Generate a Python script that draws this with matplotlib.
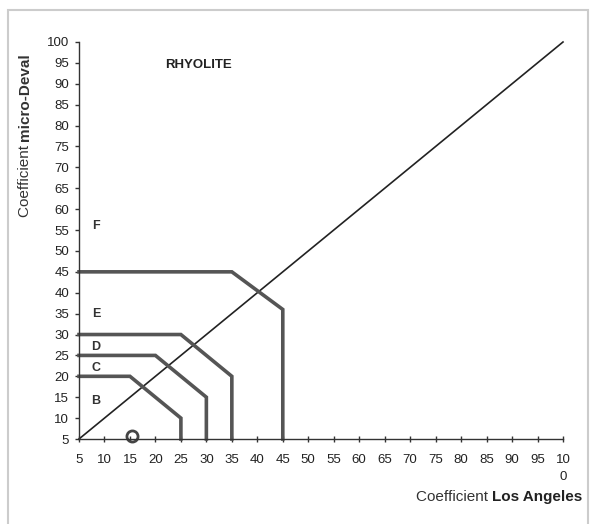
import matplotlib
matplotlib.use("Agg")
import matplotlib.pyplot as plt
from matplotlib.patches import Rectangle

plt.rcParams['font.family'] = ['Liberation Sans', 'DejaVu Sans']

# Data
x_ticks = list(range(5, 101, 5))
x_tick_labels = [str(v) for v in range(5, 100, 5)] + ["10\n0"]
y_ticks = list(range(5, 101, 5))

diag_x = [5, 100]
diag_y = [5, 100]

bound_BC_x = [5, 15, 25, 25]
bound_BC_y = [20, 20, 10, 5]
bound_CD_x = [5, 20, 30, 30]
bound_CD_y = [25, 25, 15, 5]
bound_DE_x = [5, 25, 35, 35]
bound_DE_y = [30, 30, 20, 5]
bound_EF_x = [5, 35, 45, 45]
bound_EF_y = [45, 45, 36, 5]

class_labels = ["F", "E", "D", "C", "B"]
class_x = [8.3, 8.3, 8.3, 8.3, 8.3]
class_y = [56, 35, 27, 22, 14]

point_x = [15.5]
point_y = [5.6]

fig = plt.figure(figsize=(5.92, 5.24), dpi=100)
# outer frame
fig.patches.append(Rectangle((8/592, -0.1), (588-8)/592, 1.1 - 10/524,
                             transform=fig.transFigure, fill=False,
                             edgecolor='#cccccc', linewidth=1.5))

ax = fig.add_axes([79/592, 1-439/524, (563-79)/592, (439-42)/524])
ax.set_xlim(5, 100)
ax.set_ylim(5, 100)

ax.plot(diag_x, diag_y, color='#222222', lw=1.2, clip_on=False)
for bx, by in [(bound_BC_x, bound_BC_y), (bound_CD_x, bound_CD_y),
               (bound_DE_x, bound_DE_y), (bound_EF_x, bound_EF_y)]:
    ax.plot(bx, by, color='#555555', lw=2.6, solid_joinstyle='miter', clip_on=False)

for lab, lx, ly in zip(class_labels, class_x, class_y):
    ax.text(lx, ly, lab, fontsize=9, fontweight='bold', color='#333333',
            ha='center', va='center')

ax.plot(point_x, point_y, 'o', ms=8, mfc='none', mec='#444444', mew=2, clip_on=False)

ax.text(28.4, 94.5, "RHYOLITE", fontsize=9.5, fontweight='bold', color='#222222',
        ha='center', va='center')

for s in ['top', 'right']:
    ax.spines[s].set_visible(False)
for s in ['left', 'bottom']:
    ax.spines[s].set_color('#333333')
    ax.spines[s].set_linewidth(1.0)

ax.set_xticks(x_ticks)
ax.set_xticklabels(x_tick_labels, fontsize=9.5, color='#222222', va='top',
                   linespacing=1.6)
ax.set_yticks(y_ticks)
ax.set_yticklabels([str(v) for v in y_ticks], fontsize=9.5, color='#222222')
ax.tick_params(axis='x', direction='inout', length=5, width=1, colors='#333333', pad=8)
ax.tick_params(axis='y', direction='out', length=3, width=1, colors='#333333', pad=4)
for t in ax.get_xticklabels() + ax.get_yticklabels():
    t.set_color('#222222')

# Y label with bold part
fig.canvas.draw()
r = fig.canvas.get_renderer()
t1 = fig.text(25/592, 1-217/524, "Coefficient ", rotation=90, fontsize=11,
              ha='center', va='bottom', color='#333333')
bb = t1.get_window_extent(r)
fig.text(25/592, bb.y1/fig.bbox.height, "micro-Deval", rotation=90, fontsize=11,
         fontweight='bold', ha='center', va='bottom', color='#333333')

# X label with bold part
t2 = fig.text(582/592, 1-497/524, "Los Angeles", fontsize=11, fontweight='bold',
              ha='right', va='center', color='#222222')
bb2 = t2.get_window_extent(r)
fig.text(bb2.x0/fig.bbox.width, 1-497/524, "Coefficient ", fontsize=11,
         ha='right', va='center', color='#333333')

fig.savefig("out.png", dpi=100)
